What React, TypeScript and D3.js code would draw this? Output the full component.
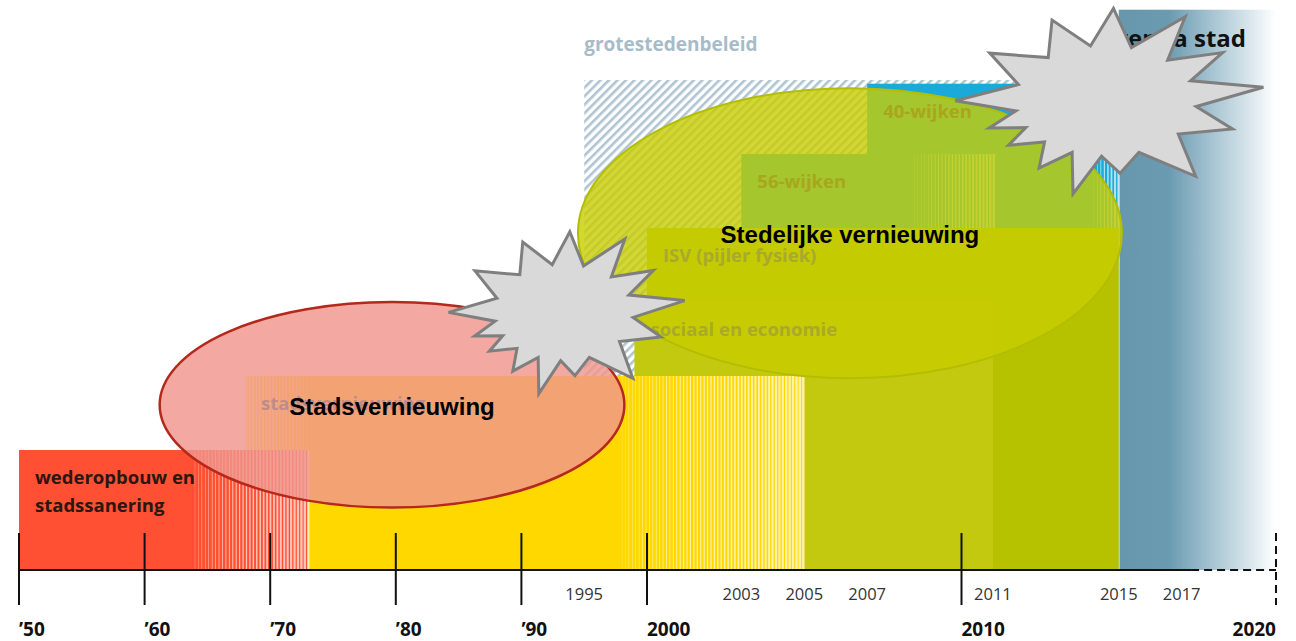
import React, { useEffect, useRef } from "react";
import * as d3 from "d3";

const width = 1296;
const height = 641;

// timeline
const decades = [1950, 1960, 1970, 1980, 1990, 2000, 2010, 2020];
const decadeLabels = ["’50", "’60", "’70", "’80", "’90", "2000", "2010", "2020"];
const yearMarks = [1995, 2003, 2005, 2007, 2011, 2015, 2017];
const solidAxisEnd = 2017.3;

// policy periods, drawn bottom layer first
const bandNames = [
  "grotestedenbeleid",
  "Agenda stad",
  "40-wijken",
  "56-wijken",
  "ISV (pijler fysiek)",
  "sociaal en economie",
  "stadsvernieuwing",
  "wederopbouw en|stadssanering",
];
const bandStart = [1995, 2015, 2007, 2003, 2000, 1999, 1968, 1950];
const bandEnd = [2015, 2020, 2015, 2011, 2015, 2011, 2005, 1973];
const bandLevel = [6, 6.95, 5.95, 5, 4, 3, 2, 1];
const bandFadeIn = [null, null, null, null, null, null, 1973, null];
const bandFadeOut = [null, null, 2014.2, 2008.5, null, null, 1998, 1964];
const bandColors = ["hatch", "agenda", "#1AAAD9", "#1AAAD9", "#B6C200", "#C2C90E", "#FFD800", "#FF5033"];
const labelColors = ["#A6BCC9", "#111111", "#A8A61C", "#A8A61C", "#A9A92E", "#A9A92A", "#BE8C8A", "#2A1612"];

// the two overlay ellipses
const blobNames = ["Stadsvernieuwing", "Stedelijke vernieuwing"];
const blobYears = [
  [1961.2, 1998.2],
  [1994.5, 2015.1],
];
const blobLevels = [
  [0.52, 3.0],
  [1.97, 5.89],
];
const blobFill = ["rgb(240,150,140)", "rgb(200,205,0)"];
const blobStroke = ["#B5281C", "#B4BE00"];

// explosion shapes
const starYears = [
  [1984.2, 2001.2],
  [2009.8, 2019.6],
];
const starLevels = [
  [1.77, 3.95],
  [4.47, 6.97],
];
const starTips = [
  [-180, 0.99],
  [-146, 0.92],
  [-112, 0.94],
  [-87, 1.0],
  [-60, 1.05],
  [-34, 0.93],
  [-8, 1.05],
  [20, 0.89],
  [54, 1.01],
  [83, 0.79],
  [102, 1.03],
  [121, 0.85],
  [143, 0.8],
  [159, 0.82],
];

const labelFont = "'Open Sans', sans-serif";

function App() {
  const ref = useRef<SVGSVGElement>(null);

  useEffect(() => {
    drawChart();
  }, []);

  function drawChart() {
    const svg = d3.select(ref.current);
    svg.selectAll("*").remove();

    const x = d3.scaleLinear().domain([1950, 2000, 2020]).range([19, 647, 1276]);
    const y = d3.scaleLinear().domain([0, 1, 7]).range([570, 450, 6]);
    const base = y(0);

    const defs = svg.append("defs");
    const hatch = defs
      .append("pattern")
      .attr("id", "hatch")
      .attr("patternUnits", "userSpaceOnUse")
      .attr("width", 6)
      .attr("height", 10)
      .attr("patternTransform", "rotate(45)");
    hatch.append("rect").attr("width", 6).attr("height", 10).attr("fill", "#fff");
    hatch
      .append("line")
      .attr("x1", 1.3)
      .attr("x2", 1.3)
      .attr("y1", 0)
      .attr("y2", 10)
      .attr("stroke", "#AFC4D1")
      .attr("stroke-width", 2.6);

    const grad = defs.append("linearGradient").attr("id", "agenda");
    [
      [0, "#6797AD"],
      [0.32, "#6B9BB1"],
      [0.6, "#A8C5D3"],
      [0.85, "#DDE9EE"],
      [1, "#FFFFFF"],
    ].forEach(([o, c]) => grad.append("stop").attr("offset", o as number).attr("stop-color", c as string));

    const bands = svg.append("g");
    bandNames.forEach((name, i) => {
      const x0 = x(bandStart[i]);
      const x1 = x(bandEnd[i]);
      const top = y(bandLevel[i]);
      const c = bandColors[i];
      bands
        .append("rect")
        .attr("x", x0)
        .attr("y", top)
        .attr("width", x1 - x0)
        .attr("height", base - top)
        .attr("fill", c === "hatch" ? "url(#hatch)" : c === "agenda" ? "url(#agenda)" : c);

      // faded edges: white vertical lines that thicken towards the edge
      const fades: [number, number, boolean][] = [];
      if (bandFadeOut[i] !== null) fades.push([x(bandFadeOut[i] as number), x1, true]);
      if (bandFadeIn[i] !== null) fades.push([x0, x(bandFadeIn[i] as number), false]);
      fades.forEach(([f0, f1, out]) => {
        d3.range(f0, f1, 3.4).forEach((sx) => {
          const t = (sx - f0) / (f1 - f0);
          const w = 0.3 + 2.2 * (out ? t : 1 - t);
          bands
            .append("rect")
            .attr("x", sx)
            .attr("y", top)
            .attr("width", w)
            .attr("height", base - top)
            .attr("fill", "#fff")
            .attr("opacity", 0.65);
        });
      });
    });

    // overlay ellipses
    blobNames.forEach((_, i) => {
      const x0 = x(blobYears[i][0]);
      const x1 = x(blobYears[i][1]);
      const y0 = y(blobLevels[i][1]);
      const y1 = y(blobLevels[i][0]);
      svg
        .append("ellipse")
        .attr("cx", (x0 + x1) / 2)
        .attr("cy", (y0 + y1) / 2)
        .attr("rx", (x1 - x0) / 2)
        .attr("ry", (y1 - y0) / 2)
        .attr("fill", blobFill[i])
        .attr("fill-opacity", i === 0 ? 0.82 : 0.8)
        .attr("stroke", blobStroke[i])
        .attr("stroke-width", i === 0 ? 2.5 : 2);
    });

    // band labels
    bandNames.forEach((name, i) => {
      const top = y(bandLevel[i]);
      const t = svg
        .append("text")
        .attr("font-family", labelFont)
        .attr("font-weight", 700)
        .attr("fill", labelColors[i]);
      if (name === "grotestedenbeleid") {
        t.attr("x", x(bandStart[i])).attr("y", top - 29).attr("font-size", 19).text(name);
      } else if (name === "Agenda stad") {
        t.attr("x", x(2020) - 30)
          .attr("y", top + 37)
          .attr("font-size", 24)
          .attr("text-anchor", "end")
          .text(name);
      } else {
        t.attr("font-size", 18.5);
        name.split("|").forEach((line, k) => {
          t.append("tspan")
            .attr("x", x(bandStart[i]) + 16)
            .attr("y", top + 34 + k * 28)
            .text(line);
        });
      }
    });

    // ellipse titles
    blobNames.forEach((name, i) => {
      const cx = (x(blobYears[i][0]) + x(blobYears[i][1])) / 2;
      const cy = (y(blobLevels[i][1]) + y(blobLevels[i][0])) / 2;
      svg
        .append("text")
        .attr("x", cx)
        .attr("y", cy + 10)
        .attr("text-anchor", "middle")
        .attr("font-family", "'Liberation Sans', Arial, sans-serif")
        .attr("font-weight", 700)
        .attr("font-size", 24)
        .attr("fill", "#000")
        .text(name);
    });

    // axis
    const axis = svg.append("g").attr("stroke", "#111").attr("stroke-width", 2);
    axis.append("line").attr("x1", x(1950)).attr("x2", x(solidAxisEnd)).attr("y1", base).attr("y2", base);
    axis
      .append("line")
      .attr("x1", x(solidAxisEnd))
      .attr("x2", x(2020))
      .attr("y1", base)
      .attr("y2", base)
      .attr("stroke-dasharray", "8,5");
    decades.forEach((d, i) => {
      axis
        .append("line")
        .attr("x1", x(d))
        .attr("x2", x(d))
        .attr("y1", base - 37)
        .attr("y2", base + 35)
        .attr("stroke-dasharray", i === decades.length - 1 ? "8,5" : null);
      svg
        .append("text")
        .attr("x", x(d))
        .attr("y", 636)
        .attr("text-anchor", i === decades.length - 1 ? "end" : "start")
        .attr("font-family", labelFont)
        .attr("font-weight", 700)
        .attr("font-size", 19)
        .attr("fill", "#111")
        .text(decadeLabels[i]);
    });
    yearMarks.forEach((yr) => {
      svg
        .append("text")
        .attr("x", x(yr))
        .attr("y", 600)
        .attr("text-anchor", "middle")
        .attr("font-family", labelFont)
        .attr("font-size", 16.5)
        .attr("fill", "#333")
        .text(yr);
    });

    // explosion shapes
    starYears.forEach((yrs, i) => {
      const x0 = x(yrs[0]);
      const x1 = x(yrs[1]);
      const yt = y(starLevels[i][1]);
      const yb = y(starLevels[i][0]);
      const rx = (x1 - x0) / 2.03;
      const ry = (yb - yt) / 2;
      const cx = x0 + 0.99 * rx;
      const cy = yt + ry;
      const pts: [number, number][] = [];
      starTips.forEach(([a, r], k) => {
        let a2 = starTips[(k + 1) % starTips.length][0];
        if (a2 < a) a2 += 360;
        const rad = (a * Math.PI) / 180;
        const mid = (((a + a2) / 2) * Math.PI) / 180;
        pts.push([cx + Math.cos(rad) * r * rx, cy + Math.sin(rad) * r * ry]);
        pts.push([cx + Math.cos(mid) * 0.6 * rx, cy + Math.sin(mid) * 0.6 * ry]);
      });
      svg
        .append("path")
        .attr("d", d3.line()(pts) + "Z")
        .attr("fill", "#D9D9D9")
        .attr("stroke", "#7F7F7F")
        .attr("stroke-width", 3)
        .attr("stroke-linejoin", "miter");
    });
  }

  return (
    <svg
      ref={ref}
      width={width}
      height={height}
      style={{ position: "absolute", left: 0, top: 0, background: "#fff" }}
    />
  );
}

export default App;
